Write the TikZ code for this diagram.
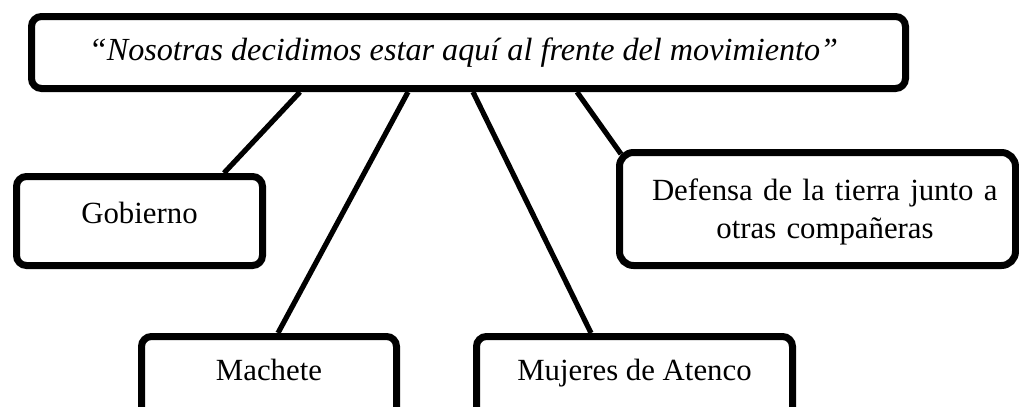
\documentclass[tikz,border=0pt]{standalone}
\usepackage{fontspec}
\setmainfont{Liberation Serif}
\usetikzlibrary{calc}

\tikzset{
	box/.style={draw, line width=3.5pt, rounded corners=5pt, align=center, inner sep=0pt,
		text depth=5pt, font=\fontsize{15.4}{19}\selectfont},
	link/.style={line width=2.6pt}
}

\begin{document}
\begin{tikzpicture}[x=0.5pt, y=-0.5pt]
	\useasboundingbox (0,0) rectangle (1019,407);
	\node (lema) at (468.5,52.5) [box, minimum width=437pt, minimum height=36pt, text height=13.5pt,
		font=\fontsize{16.1}{19}\selectfont]
		{\itshape \hspace*{-5pt}“Nosotras decidimos estar aquí al frente del movimiento”};
		\node (gob) at (139.5,221) [box, minimum width=123pt, minimum height=44.5pt, text height=7pt] {Gobierno};
		\node (def) at (817.5,209) [box, rounded corners=7pt, minimum width=198pt, minimum height=56.5pt,
			text height=15pt, text depth=24pt, text width=180.5pt]
			{\hspace*{7.5pt}\makebox[173pt][s]{Defensa de la tierra junto a}\\ \hspace*{7.5pt}otras compañeras};
		\node (mach) at (269,381) [box, minimum width=127.5pt, minimum height=44.5pt, text height=4pt] {Machete};
		\node (muj) at (634.5,381) [box, minimum width=158pt, minimum height=44.5pt, text height=4pt] {Mujeres de Atenco};
	% ramas
	\draw[link] ($(lema.south)+(-168.5,0)$) -- ($(gob.north)+(84.5,0)$);
	\draw[link] ($(lema.south)+(-60.5,0)$) -- ($(mach.north)+(9,0)$);
	\draw[link] ($(lema.south)+(4.5,0)$) -- ($(muj.north)+(-43.5,0)$);
	\draw[link] ($(lema.south)+(108.5,0)$) -- ($(def.north west)+(5,5)$);
\end{tikzpicture}
\end{document}
